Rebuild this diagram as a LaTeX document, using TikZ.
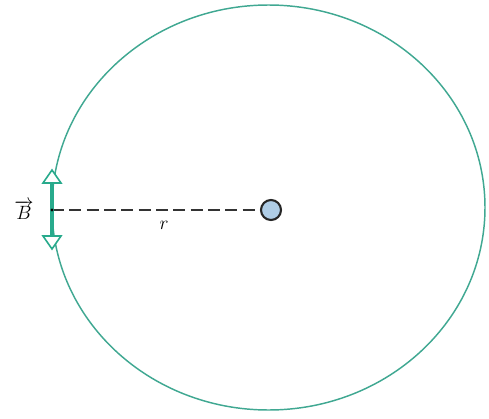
\documentclass[tikz,border=0pt]{standalone}
\usetikzlibrary{arrows.meta}
\definecolor{ring}{RGB}{64,168,146}
\definecolor{field}{RGB}{40,170,140}
\definecolor{wire}{RGB}{175,205,230}
\tikzset{
  orbit/.style={draw=ring, line width=1.1pt},
  fieldbar/.style={draw=field, line width=3pt},
  headtri/.style={draw=field, fill=white, line width=1.2pt, line join=miter},
  radius/.style={draw=black!80, dashed, dash pattern=on 9pt off 4pt, line width=0.9pt},
  lbl/.style={font=\fontsize{15.5}{18}\selectfont}
}
\begin{document}
\begin{tikzpicture}[x=0.75pt,y=-0.75pt]
\useasboundingbox (0,0) rectangle (489,418);
\draw[orbit] (268.5,207.5) ellipse [x radius=216.5, y radius=202.5];
\coordinate (P) at (52,210);
\node[circle, draw=black!85, fill=wire, line width=1.6pt, minimum size=15pt, inner sep=0pt] (W) at (271,210) {};
\draw[radius] (P) -- (W.west);
\draw[fieldbar] (52,181) -- (52,238);
\draw[headtri] (43,183) -- (61,183) -- (52,170) -- cycle;
\draw[headtri] (43,236) -- (61,236) -- (52,249) -- cycle;
\fill[black] (P) circle (1.6);
\node[lbl, inner sep=1pt] (B) at (24,210) {$\overrightarrow{B}$};
\node[lbl] (r) at (164,225) {$r$};
\end{tikzpicture}
\end{document}
